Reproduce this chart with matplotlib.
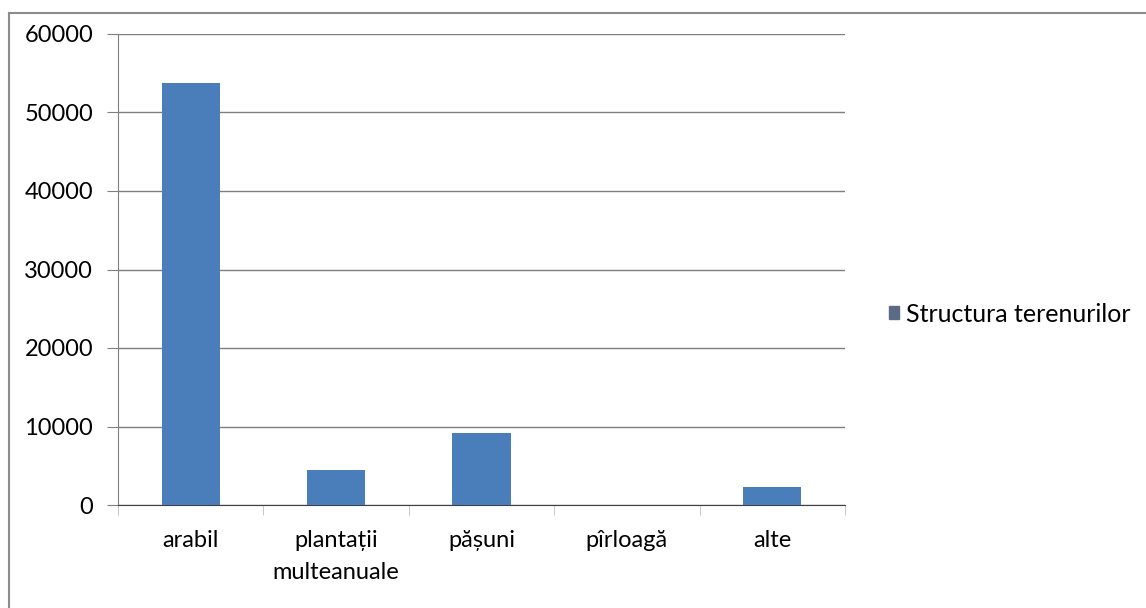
import matplotlib.pyplot as plt
from matplotlib.lines import Line2D
from matplotlib.patches import Patch

# date
categorii = ["arabil", "plantații\nmulteanuale", "pășuni", "pîrloagă", "alte"]
valori = [53800, 4450, 9150, 0, 2300]
y_ticks = [0, 10000, 20000, 30000, 40000, 50000, 60000]
eticheta_serie = "Structura terenurilor"

plt.rcParams["font.family"] = ["Lato", "DejaVu Sans"]

W, H = 1146, 608
fig = plt.figure(figsize=(W / 100, H / 100), dpi=100)

# chenar exterior (doar sus si stanga vizibile)
fig.add_artist(Line2D([8.5 / W, 8.5 / W], [0, 1 - 13 / H], color="#8c8c8c", lw=1.5))
fig.add_artist(Line2D([8.5 / W, 1], [1 - 13 / H, 1 - 13 / H], color="#8c8c8c", lw=1.5))

x0, x1 = 118, 845
y_top, y_bot = 34, 505
ax = fig.add_axes([x0 / W, 1 - y_bot / H, (x1 - x0) / W, (y_bot - y_top) / H])

pos = list(range(len(categorii)))
ax.bar(pos, valori, width=0.4, color="#4a7ebb", zorder=3)

ax.set_xlim(-0.5, len(categorii) - 0.5)
ax.set_ylim(0, 60000)
ax.set_yticks(y_ticks)
ax.set_yticklabels([str(v) for v in y_ticks], fontsize=17)
ax.yaxis.grid(True, color="#7f7f7f", lw=1, zorder=0)
ax.set_axisbelow(True)

ax.set_xticks(pos)
ax.set_xticklabels(categorii, fontsize=17, linespacing=1.65, va="top")
ax.tick_params(axis="x", length=0, pad=18)
ax.set_xticks([p - 0.5 for p in pos] + [len(categorii) - 0.5], minor=True)
ax.tick_params(axis="x", which="minor", length=7, color="#bfbfbf")
ax.tick_params(axis="y", length=8, color="#7f7f7f", pad=10)

for s in ["top", "right"]:
    ax.spines[s].set_visible(False)
ax.spines["left"].set_color("#7f7f7f")
ax.spines["bottom"].set_color("#404040")

ax.legend(handles=[Patch(color="#5b6b85", label=eticheta_serie)],
          loc="center left", bbox_to_anchor=(866 / W, 1 - 314 / H),
          bbox_transform=fig.transFigure, frameon=False, fontsize=18,
          handlelength=0.42, handleheight=0.42, handletextpad=0.3)

fig.savefig("out.png", dpi=100, facecolor="white")
